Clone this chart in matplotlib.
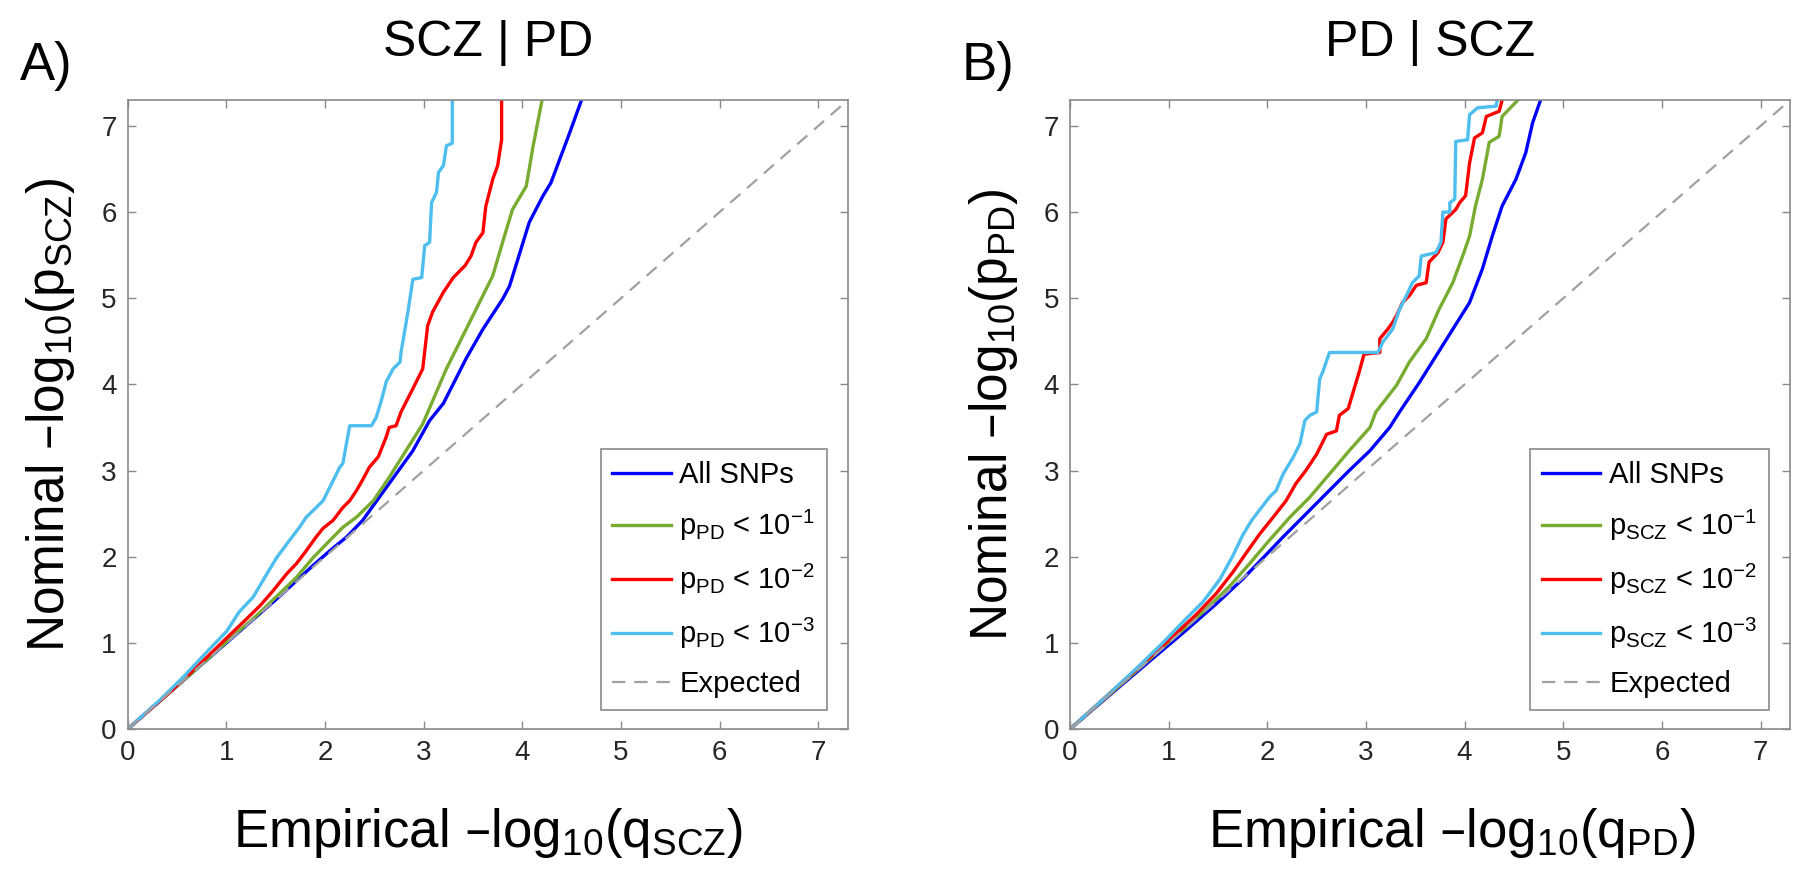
import matplotlib.pyplot as plt

plt.rcParams['font.family'] = ['Liberation Sans', 'DejaVu Sans']
plt.rcParams['mathtext.default'] = 'regular'

# ---- Panel A: SCZ | PD (x = empirical -log10 q, y = nominal -log10 p)
a_all_x = [0, 0.36, 0.7, 1.03, 1.3, 1.51, 1.71, 1.88, 2.05, 2.22, 2.38, 2.55, 2.72, 2.89, 3.06, 3.2, 3.43, 3.6, 3.8, 3.87, 4.07, 4.21, 4.29, 4.48, 4.6]
a_all_y = [0, 0.36, 0.7, 1.03, 1.3, 1.51, 1.72, 1.9, 2.07, 2.23, 2.42, 2.69, 2.96, 3.23, 3.58, 3.78, 4.3, 4.64, 4.99, 5.14, 5.88, 6.19, 6.34, 6.92, 7.3]
a_p1_x = [0, 0.36, 0.7, 1.03, 1.3, 1.51, 1.71, 1.88, 2.05, 2.18, 2.32, 2.49, 2.65, 2.82, 2.99, 3.23, 3.4, 3.6, 3.7, 3.8, 3.9, 4.04, 4.11, 4.2]
a_p1_y = [0, 0.36, 0.7, 1.04, 1.31, 1.54, 1.76, 1.99, 2.19, 2.34, 2.46, 2.65, 2.92, 3.23, 3.54, 4.18, 4.57, 5.03, 5.26, 5.65, 6.03, 6.3, 6.77, 7.3]
a_p2_x = [0, 0.43, 0.7, 0.97, 1.17, 1.34, 1.47, 1.61, 1.71, 1.81, 1.91, 1.98, 2.08, 2.18, 2.25, 2.32, 2.38, 2.45, 2.54, 2.62, 2.65, 2.72, 2.77, 2.89, 2.99,
          3.04, 3.09, 3.2, 3.3, 3.42, 3.48, 3.53, 3.6, 3.63, 3.7, 3.75, 3.79, 3.79]
a_p2_y = [0, 0.43, 0.72, 1.02, 1.24, 1.43, 1.6, 1.8, 1.92, 2.07, 2.23, 2.33, 2.42, 2.57, 2.65, 2.77, 2.89, 3.04, 3.16, 3.39, 3.5, 3.52, 3.68, 3.95, 4.18,
          4.68, 4.84, 5.07, 5.24, 5.38, 5.49, 5.65, 5.76, 6.07, 6.38, 6.54, 6.84, 7.3]
a_p3_x = [0, 0.32, 0.56, 0.83, 1.0, 1.13, 1.27, 1.41, 1.51, 1.64, 1.74, 1.81, 1.91, 1.98, 2.05, 2.15, 2.18, 2.25, 2.47, 2.52, 2.57, 2.62, 2.69, 2.76,
          2.77, 2.84, 2.89, 2.98, 3.01, 3.06, 3.08, 3.13, 3.15, 3.2, 3.23, 3.29, 3.29]
a_p3_y = [0, 0.33, 0.6, 0.93, 1.13, 1.36, 1.53, 1.8, 1.99, 2.19, 2.34, 2.46, 2.57, 2.65, 2.81, 3.04, 3.08, 3.52, 3.52, 3.62, 3.81, 4.03, 4.18, 4.26,
          4.37, 4.84, 5.22, 5.24, 5.61, 5.65, 6.11, 6.23, 6.46, 6.54, 6.77, 6.8, 7.3]

# ---- Panel B: PD | SCZ
b_all_x = [0, 0.44, 0.84, 1.15, 1.48, 1.75, 1.96, 2.16, 2.36, 2.56, 2.83, 3.04, 3.24, 3.34, 3.54, 3.71, 3.88, 4.05, 4.18, 4.28, 4.38, 4.52, 4.62, 4.69, 4.77]
b_all_y = [0, 0.43, 0.82, 1.12, 1.45, 1.74, 1.99, 2.23, 2.46, 2.69, 3.0, 3.23, 3.5, 3.68, 4.02, 4.33, 4.64, 4.95, 5.34, 5.72, 6.07, 6.38, 6.69, 7.04, 7.3]
b_p1_x = [0, 0.5, 1.01, 1.35, 1.62, 1.82, 2.02, 2.23, 2.43, 2.63, 2.83, 3.04, 3.1, 3.31, 3.44, 3.61, 3.74, 3.88, 3.98, 4.05, 4.11, 4.18, 4.25, 4.35, 4.38, 4.54]
b_p1_y = [0, 0.5, 1.02, 1.36, 1.66, 1.92, 2.19, 2.46, 2.69, 2.96, 3.23, 3.5, 3.68, 3.99, 4.26, 4.53, 4.87, 5.18, 5.49, 5.72, 6.07, 6.38, 6.81, 6.88, 7.11, 7.3]
b_p2_x = [0, 0.34, 0.67, 1.01, 1.28, 1.48, 1.65, 1.79, 1.92, 2.06, 2.19, 2.29, 2.39, 2.5, 2.6, 2.7, 2.73, 2.82, 2.88, 2.93, 2.98, 3.14, 3.14, 3.22, 3.27,
          3.31, 3.37, 3.44, 3.51, 3.61, 3.64, 3.73, 3.78, 3.81, 3.91, 3.95, 4.01, 4.05, 4.1, 4.18, 4.22, 4.35, 4.38]
b_p2_y = [0, 0.35, 0.69, 1.04, 1.33, 1.57, 1.82, 2.05, 2.26, 2.46, 2.65, 2.85, 3.0, 3.19, 3.42, 3.46, 3.64, 3.72, 3.95, 4.14, 4.35, 4.37, 4.53, 4.64, 4.72,
          4.8, 4.95, 5.03, 5.15, 5.18, 5.42, 5.53, 5.65, 5.92, 6.03, 6.11, 6.19, 6.57, 6.86, 6.92, 7.11, 7.17, 7.3]
b_p3_x = [0, 0.34, 0.67, 0.94, 1.15, 1.35, 1.52, 1.65, 1.75, 1.84, 1.92, 2.02, 2.09, 2.16, 2.26, 2.33, 2.38, 2.43, 2.5, 2.53, 2.56, 2.63, 3.12, 3.17,
          3.27, 3.34, 3.41, 3.47, 3.54, 3.56, 3.71, 3.76, 3.78, 3.85, 3.85, 3.9, 3.91, 4.03, 4.05, 4.13, 4.32, 4.33]
b_p3_y = [0, 0.35, 0.7, 1.0, 1.25, 1.48, 1.74, 2.01, 2.25, 2.42, 2.54, 2.69, 2.77, 2.96, 3.15, 3.31, 3.58, 3.64, 3.68, 4.06, 4.14, 4.37, 4.37, 4.49,
          4.64, 4.87, 5.03, 5.18, 5.26, 5.49, 5.53, 5.65, 6.0, 6.0, 6.11, 6.15, 6.82, 6.84, 7.13, 7.21, 7.23, 7.3]

colors = ['#0000ff', '#77ac30', '#ff0000', '#4dbeee']

panels = [
    {'curves': [(a_all_x, a_all_y), (a_p1_x, a_p1_y), (a_p2_x, a_p2_y), (a_p3_x, a_p3_y)],
     'title': 'SCZ | PD', 'tag': 'A)', 'sub': 'SCZ', 'other': 'PD', 'pos': [0.071, 0.1735, 0.400, 0.713], 'xlab_x': 0.50},
    {'curves': [(b_all_x, b_all_y), (b_p1_x, b_p1_y), (b_p2_x, b_p2_y), (b_p3_x, b_p3_y)],
     'title': 'PD | SCZ', 'tag': 'B)', 'sub': 'PD', 'other': 'SCZ', 'pos': [0.5945, 0.1735, 0.400, 0.713], 'xlab_x': 0.53},
]

fig = plt.figure(figsize=(18, 8.82), dpi=100)

for p in panels:
    ax = fig.add_axes(p['pos'])
    labels = ['All SNPs'] + ['p$_{%s}$ < 10$^{-%d}$' % (p['other'], k) for k in (1, 2, 3)]
    for (x, y), c, lab in zip(p['curves'], colors, labels):
        ax.plot(x, y, color=c, lw=2.4, label=lab)
    ax.plot([0, 7.3], [0, 7.3], color='#a0a0a0', lw=1.6, ls=(0, (6, 4)), label='Expected')

    ax.set_xlim(0, 7.3)
    ax.set_ylim(0, 7.3)
    ax.set_xticks(range(8))
    ax.set_yticks(range(8))
    ax.tick_params(direction='in', length=6, width=1, colors='#888888', labelcolor='#262626',
                   labelsize=20, top=True, right=True, pad=8)
    for s in ax.spines.values():
        s.set_color('#8a8a8a')
        s.set_linewidth(1.2)

    ax.set_title(p['title'], fontsize=36, pad=32)
    ax.set_xlabel('Empirical \u2013log$_{10}$(q$_{%s}$)' % p['sub'], fontsize=38)
    ax.xaxis.set_label_coords(p['xlab_x'], -0.165)
    ax.xaxis.label.set_va('center')
    ax.set_ylabel('Nominal \u2013log$_{10}$(p$_{%s}$)' % p['sub'], fontsize=37)
    ax.yaxis.set_label_coords(-0.107, 0.5)
    ax.yaxis.label.set_va('center')

    leg = ax.legend(loc='lower right', bbox_to_anchor=(0.971, 0.03), borderaxespad=0,
                    fontsize=21, handlelength=2.0, labelspacing=0.65, handletextpad=0.3,
                    borderpad=0.4, fancybox=False, framealpha=1)
    leg.get_frame().set_edgecolor('#8a8a8a')
    leg.get_frame().set_linewidth(1.2)

    fig.text(p['pos'][0] - 0.06, 0.925, p['tag'], fontsize=38, ha='left', va='center')

fig.savefig('out.png', dpi=100)
